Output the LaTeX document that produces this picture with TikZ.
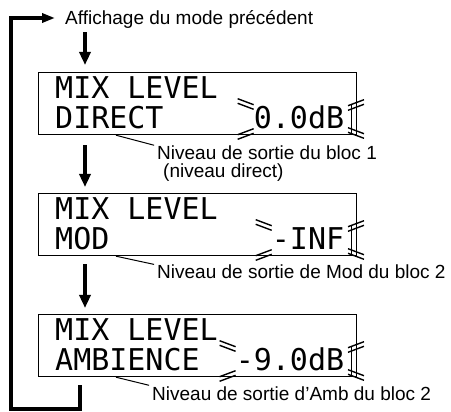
\documentclass[tikz,border=0pt]{standalone}
\usepackage{fontspec}
\setmainfont{Liberation Sans}
\newfontfamily\lcdfont{DejaVu Sans Mono}
\usetikzlibrary{arrows.meta}

\begin{document}
\begin{tikzpicture}[x=1pt,y=-1pt,
    lcdbox/.style={draw,line width=1.2pt,minimum width=318pt,minimum height=62pt,inner sep=0pt},
    lcd/.style={anchor=base west,inner sep=0pt,font=\lcdfont\fontsize{30}{30}\selectfont},
    lbl/.style={anchor=base west,inner sep=0pt,font=\fontsize{19}{21}\selectfont},
    flow/.style={line width=4pt,-{Triangle[length=13pt,width=11pt]}},
    loopline/.style={line width=3.5pt,-{Triangle[length=13pt,width=9pt]}},
    ptr/.style={line width=1pt,shorten >=3pt},
    blink/.style={line width=1.4pt}]
\useasboundingbox (0,0) rectangle (451,412);

\node[lbl] (prev) at (65,25) {Affichage du mode précédent};

% the three displays
\foreach \n/\ytop/\mname/\vtext/\col in {1/72/DIRECT/0.0dB/11,2/193/MOD/-INF/12,3/314/AMBIENCE/-9.0dB/10}{
  \node[lcdbox,anchor=north west] (box\n) at (38,\ytop) {};
  \node[lcd] (head\n) at (55,\ytop+27) {MIX LEVEL};
  \node[lcd] (mode\n) at (55,\ytop+57) {\mname};
  \node[lcd] (val\n) at (55+18.06*\col,\ytop+57) {\vtext};
  % blinking value: corner ticks and bracket
  \pgfmathsetmacro{\vx}{55+18.06*\col-8}
  \foreach \cx/\cy/\s in {\vx/\ytop+32/1,\vx/\ytop+62/-1,356/\ytop+33/-1,356/\ytop+61/1}
    \draw[blink] ({\cx-8},{\cy-2.3-3*\s}) -- ++(16,{6*\s}) ({\cx-8},{\cy+2.3-3*\s}) -- ++(16,{6*\s});
  \draw[blink] (351.5,\ytop+33) -- (351.5,\ytop+61);
}

\node[lbl] (out1) at (157,160) {Niveau de sortie du bloc 1};
\node[lbl] (out1b) at (163,178) {(niveau direct)};
\node[lbl] (out2) at (157,279) {Niveau de sortie de Mod du bloc 2};
\node[lbl] (out3) at (152,400) {Niveau de sortie d'Amb du bloc 2};

\coordinate (ptrx) at (116,0);
\foreach \n in {1,2,3}
    \draw[ptr] (box\n.south -| ptrx) -- (out\n.north west);

% arrows down and the way back
\coordinate (col) at (85,0);
\coordinate (back) at (80,0);
\coordinate (looptip) at (55,18);
\draw[flow,shorten <=3pt,shorten >=7pt] (prev.south -| col) -- (box1.north -| col);
\draw[flow,shorten <=10pt,shorten >=6pt] (box1.south -| col) -- (box2.north -| col);
\draw[flow,shorten <=8pt,shorten >=6pt] (box2.south -| col) -- (box3.north -| col);
\draw[loopline,shorten <=8pt] (box3.south -| back) -- (80,409) -| (11,18) -- (looptip);
\end{tikzpicture}
\end{document}
